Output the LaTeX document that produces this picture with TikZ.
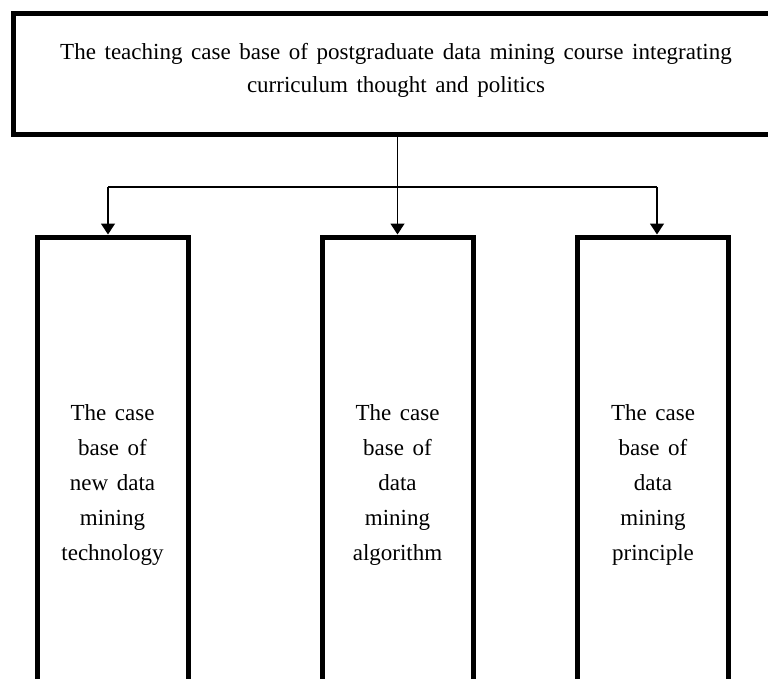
\documentclass[tikz,border=0pt]{standalone}
\usepackage{fontspec}
\setmainfont[WordSpace=1.5]{Liberation Serif}
\usetikzlibrary{arrows.meta}

\begin{document}
\begin{tikzpicture}[
  x=1pt, y=-1pt,
  topbox/.style={draw, line width=5pt, minimum width=766pt, minimum height=121pt,
    text depth=13pt, align=center, font=\fontsize{23}{33}\selectfont},
  casebox/.style={draw, line width=5pt, minimum width=151pt, minimum height=496pt,
    align=center, font=\fontsize{23}{35}\selectfont},
  arr/.style={-{Triangle[width=14pt,length=11pt]}, line width=1.3pt}
]
\useasboundingbox (0,0) rectangle (768,679);
\clip (0,0) rectangle (768,679);
\node[topbox] (base) at (396,74.5)
  {The teaching case base of postgraduate data mining course integrating\\curriculum thought and politics};
\node[casebox] (tech) at (112.5,485) {The case\\base of\\new data\\mining\\technology};
\node[casebox] (algo) at (397.5,485) {The case\\base of\\data\\mining\\algorithm};
\node[casebox] (prin) at (653,485) {The case\\base of\\data\\mining\\principle};
\coordinate (lk) at (108,187);
\coordinate (rk) at (657,187);
\draw[line width=1.3pt] (lk) -- (rk);
\draw[arr] (base.south -| algo) -- (algo.north);
\draw[arr] (lk) -- (lk |- tech.north);
\draw[arr] (rk) -- (rk |- prin.north);
\end{tikzpicture}
\end{document}
